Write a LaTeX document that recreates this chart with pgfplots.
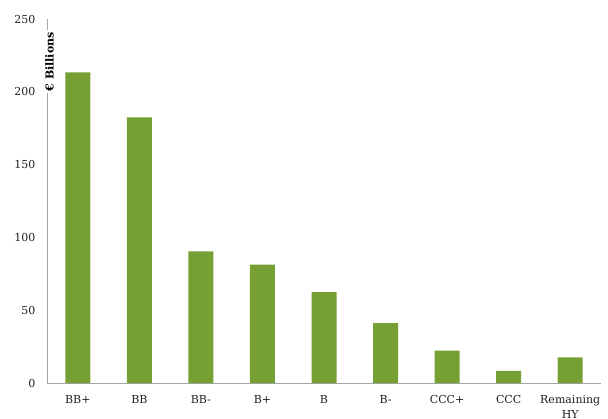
\documentclass[border=0pt]{standalone}
\usepackage{pgfplots}
\pgfplotsset{compat=1.18}
\usepackage{fontspec}
\setmainfont{DejaVu Serif}
\definecolor{bargreen}{RGB}{119,160,52}
\definecolor{axisgray}{RGB}{165,165,165}
\definecolor{txt}{RGB}{30,30,30}

\begin{document}
\begin{tikzpicture}
\begin{axis}[
    scale only axis,
    width=554pt, height=364pt,
    ybar, bar width=25pt, bar shift=0pt,
    xmin=-0.5, xmax=8.5,
    ymin=0, ymax=250,
    axis lines=left,
    axis line style={axisgray, line width=0.8pt, -},
    xtick=data,
    xticklabels={BB+,BB,BB-,B+,B,B-,CCC+,CCC,{Remaining\\HY}},
    xticklabel style={align=center, font=\fontsize{11}{15}\selectfont, text=txt, yshift=-9pt},
    ytick={0,50,...,250},
    yticklabel style={font=\fontsize{11}{12}\selectfont, text=txt, xshift=-8pt},
    /pgf/number format/assume math mode=true,
    major tick length=0pt,
    tick style={draw=none},
    clip=false,
]
\addplot[fill=bargreen, draw=none] coordinates {
    (0,213.3) (1,182.4) (2,90.4) (3,81.3) (4,62.5) (5,41.2) (6,22.2) (7,8.3) (8,17.6)
};
\coordinate (bl) at (rel axis cs:0,0);
\coordinate (tr) at (rel axis cs:1,1);
\coordinate (lab) at (rel axis cs:0,0.882);
\end{axis}
\pgfresetboundingbox
\path[use as bounding box] ([shift={(-47pt,-35pt)}]bl) rectangle ([shift={(7pt,19pt)}]tr);
\node[rotate=90, fill=white, inner sep=2pt, font=\fontsize{11}{12}\selectfont\bfseries, text=black] at ([xshift=2.5pt]lab) {€ Billions};
\end{tikzpicture}
\end{document}
